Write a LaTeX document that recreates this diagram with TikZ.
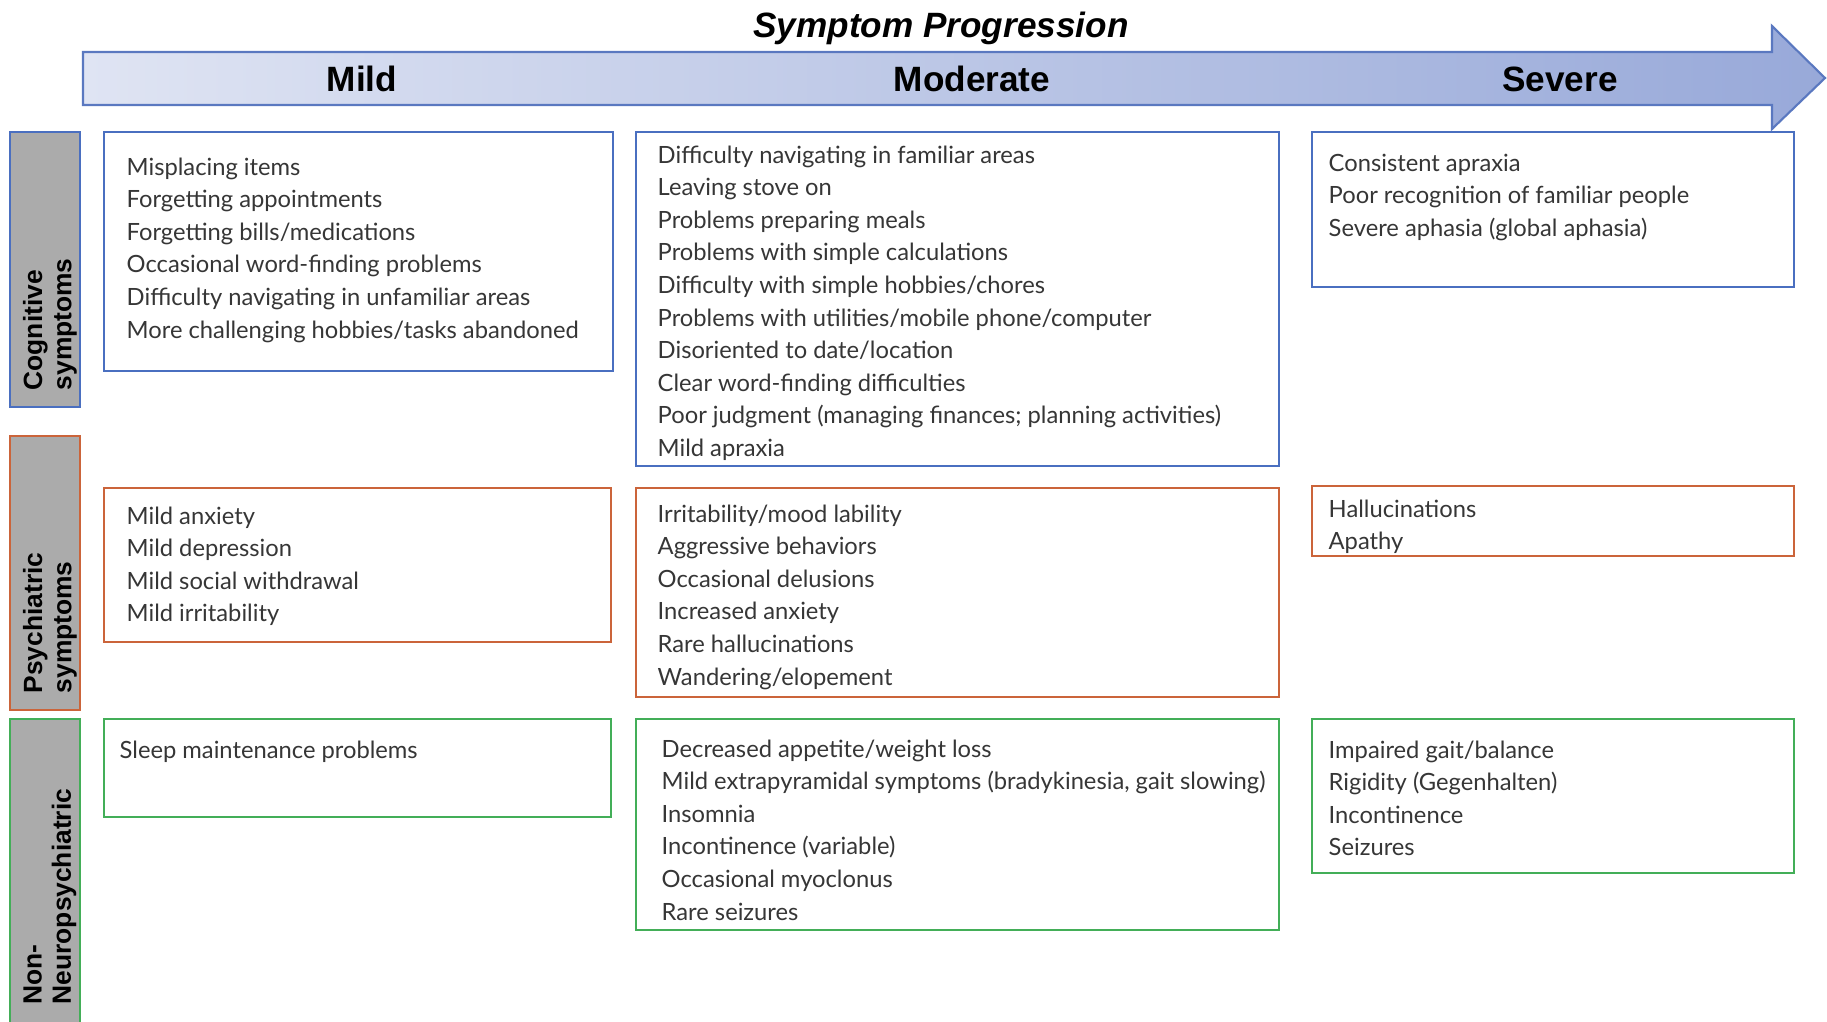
\documentclass[tikz,border=0pt]{standalone}
\usepackage{fontspec}
\setmainfont{Lato}
\newfontfamily\hdr{Liberation Sans}
\definecolor{cblue}{HTML}{4A6FC0}
\definecolor{corange}{HTML}{CB643A}
\definecolor{cgreen}{HTML}{43AE58}
\definecolor{sidegray}{HTML}{ABABAB}
\definecolor{arrowL}{HTML}{DFE4F3}
\definecolor{arrowR}{HTML}{98A9D9}
\definecolor{arrowB}{HTML}{5A78C0}
\definecolor{txt}{HTML}{363636}
\begin{document}
\begin{tikzpicture}[x=0.01cm,y=-0.01cm,
  boxline/.style={line width=0.7pt},
  bluebox/.style={boxline, draw=cblue},
  orangebox/.style={boxline, draw=corange},
  greenbox/.style={boxline, draw=cgreen},
  sidebox/.style={boxline, fill=sidegray},
  item/.style={anchor=north west, inner sep=0pt, align=left, text=txt, font=\fontsize{6.75}{9.27}\selectfont},
  side/.style={rotate=90, anchor=west, align=left, inner sep=0pt, font=\hdr\bfseries\fontsize{7.5}{8.3}\selectfont},
  head/.style={inner sep=0pt, font=\hdr\bfseries\fontsize{10}{12}\selectfont}]
\useasboundingbox (0,0) rectangle (1827,1021);
\fill[white] (0,0) rectangle (1827,1021);

% progression arrow
\path[draw=arrowB, line width=0.6pt, left color=arrowL, right color=arrowR]
  (83,52) -- (1772,52) -- (1772,26) -- (1825,78) -- (1772,129) -- (1772,105) -- (83,105) -- cycle;
\node[head, font=\hdr\bfseries\itshape\fontsize{10}{12}\selectfont] (title) at (941,28) {Symptom Progression};
\node[head] (hmild) at (362,79) {Mild};
\node[head] (hmod) at (972,79) {Moderate};
\node[head] (hsev) at (1560,79) {Severe};

% side labels
\draw[sidebox, draw=cblue] (10,132) rectangle (80,407);
\draw[sidebox, draw=corange] (10,436) rectangle (80,710);
\draw[sidebox, draw=cgreen] (10,719) rectangle (80,1040);
\node[side] (scog) at (50,391) {Cognitive\\symptoms};
\node[side] (spsy) at (50,694) {Psychiatric\\symptoms};
\node[side] (snon) at (50,1005) {Non-\\Neuropsychiatric};

% row 1: cognitive
\draw[bluebox] (104,132) rectangle (613,371);
\draw[bluebox] (636,132) rectangle (1279,466);
\draw[bluebox] (1312,132) rectangle (1794,287);
\node[item] (c1) at (126,157) {Misplacing items\\Forgetting appointments\\Forgetting bills/medications\\Occasional word-finding problems\\Difficulty navigating in unfamiliar areas\\More challenging hobbies/tasks abandoned};
\node[item] (c2) at (657,145) {Difficulty navigating in familiar areas\\Leaving stove on\\Problems preparing meals\\Problems with simple calculations\\Difficulty with simple hobbies/chores\\Problems with utilities/mobile phone/computer\\Disoriented to date/location\\Clear word-finding difficulties\\Poor judgment (managing finances; planning activities)\\Mild apraxia};
\node[item] (c3) at (1328,153) {Consistent apraxia\\Poor recognition of familiar people\\Severe aphasia (global aphasia)};

% row 2: psychiatric
\draw[orangebox] (104,488) rectangle (611,642);
\draw[orangebox] (636,488) rectangle (1279,697);
\draw[orangebox] (1312,486) rectangle (1794,556);
\node[item] (p1) at (126,506) {Mild anxiety\\Mild depression\\Mild social withdrawal\\Mild irritability};
\node[item] (p2) at (657,504) {Irritability/mood lability\\Aggressive behaviors\\Occasional delusions\\Increased anxiety\\Rare hallucinations\\Wandering/elopement};
\node[item] (p3) at (1328,499) {Hallucinations\\Apathy};

% row 3: non-neuropsychiatric
\draw[greenbox] (104,719) rectangle (611,817);
\draw[greenbox] (636,719) rectangle (1279,930);
\draw[greenbox] (1312,719) rectangle (1794,873);
\node[item] (n1) at (119,740) {Sleep maintenance problems};
\node[item] (n2) at (661,739) {Decreased appetite/weight loss\\Mild extrapyramidal symptoms (bradykinesia, gait slowing)\\Insomnia\\Incontinence (variable)\\Occasional myoclonus\\Rare seizures};
\node[item] (n3) at (1328,740) {Impaired gait/balance\\Rigidity (Gegenhalten)\\Incontinence\\Seizures};
\end{tikzpicture}
\end{document}
